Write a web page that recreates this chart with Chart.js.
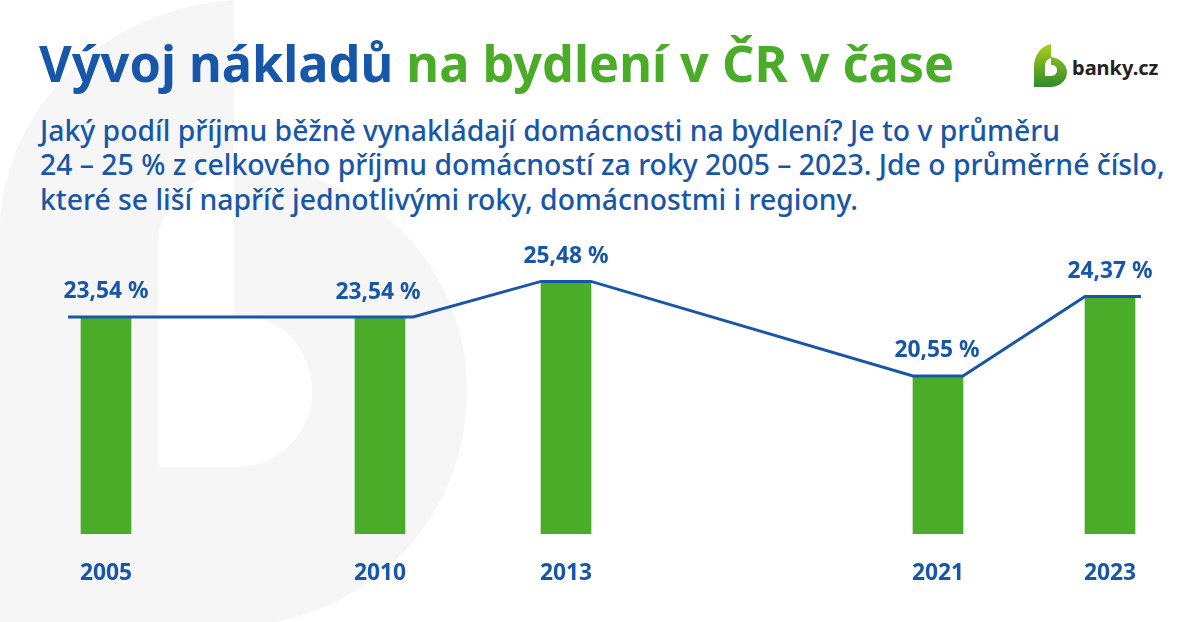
<!DOCTYPE html>
<html lang="cs">
<head>
<meta charset="utf-8">
<title>Vývoj nákladů na bydlení v ČR v čase</title>
<script src="https://cdn.jsdelivr.net/npm/chart.js@4/dist/chart.umd.min.js"></script>
<style>
    html, body { margin: 0; padding: 0; background: #fff; }
    #page { position: relative; width: 1200px; height: 622px; overflow: hidden; font-family: "Noto Sans", sans-serif; color: #1756a9; }
    #page svg, #page canvas { position: absolute; left: 0; top: 0; }
    .title { position: absolute; left: 39px; top: 30px; font-size: 50.45px; line-height: 66px; font-weight: 700; white-space: nowrap; }
    .title span { color: #4aac29; }
    .lead { position: absolute; left: 40px; top: 112.5px; font-size: 28.35px; line-height: 34.5px; font-weight: 500; white-space: nowrap; }
    .brand { position: absolute; left: 1072px; top: 54px; font-size: 20px; line-height: 28px; font-weight: 700; color: #222; white-space: nowrap; }
</style>
</head>
<body>
<div id="page">
    <svg width="1200" height="622" viewBox="0 0 1200 622">
        <defs>
            <linearGradient id="logoGreen" x1="0" y1="0" x2="0" y2="1">
                <stop offset="0" stop-color="#a8cf1c"/>
                <stop offset="1" stop-color="#2f8a2b"/>
            </linearGradient>
        </defs>
        <!-- watermark -->
        <path fill="#f6f6f6" d="M234 0 L234 165 C300 165 360 190 401 230 C445 275 467 330 467 390 C467 470 430 540 367 583 C340 602 310 615 277 622 L0 622 L0 222 C8 100 110 8 234 0 Z"/>
        <path fill="#fff" d="M234 168 C195 172 160 205 158 240 L158 467 L237 467 C280 467 312 432 312 393 C312 352 285 320 253 318 L234 318 Z"/>
        <!-- logo -->
        <path fill="url(#logoGreen)" d="M1051 44 L1051 57 C1060 58 1067 65 1067 72 C1067 81 1059 87 1050 87 L1034 87 L1034 67 C1034 55 1041 46 1051 44 Z"/>
        <path fill="#fff" d="M1051 58 C1047 59 1045 62 1045 66 L1045 76 L1051 76 C1055 76 1057 73 1057 70 C1057 67 1055 65 1051 65 Z"/>
    </svg>
    <div class="title">Vývoj nákladů <span>na bydlení v ČR v čase</span></div>
    <div class="lead">Jaký podíl příjmu běžně vynakládají domácnosti na bydlení? Je to v průměru<br>24 – 25 % z celkového příjmu domácností za roky 2005 – 2023. Jde o průměrné číslo,<br>které se liší napříč jednotlivými roky, domácnostmi i regiony.</div>
    <div class="brand">banky.cz</div>
    <canvas id="chart" width="1200" height="622"></canvas>
</div>

<script>
    const years = ['2005', '2010', '2013', '2021', '2023'];
    const shareLabels = ['23,54 %', '23,54 %', '25,48 %', '20,55 %', '24,37 %'];
    // the picture is not drawn to scale: these are the levels the bars really reach
    const plottedLevels = [23.54, 23.54, 25.34, 20.55, 24.58];
    // spacing of the years is not even in the picture either
    const yearSlots = [106, 380, 566, 938, 1110];

    const barWidth = 50;
    const lineLeft = [38, 25, 25, 25, 25];
    const lineRight = [25, 33, 25, 25, 31];
    const labelShiftX = [0, -2, 0, -1, 0];
    const labelShiftY = [0, 1, 0, 0, 0];

    const blue = '#1756a9';
    const green = '#4aac29';

    const barPoints = yearSlots.map((x, i) => ({ x: x, y: plottedLevels[i] }));
    const linePoints = [];
    yearSlots.forEach((x, i) => {
        linePoints.push({ x: x - lineLeft[i], y: plottedLevels[i] });
        linePoints.push({ x: x + lineRight[i], y: plottedLevels[i] });
    });

    const shareLabelPlugin = {
        id: 'shareLabels',
        afterDatasetsDraw(chart) {
            const ctx = chart.ctx;
            const bars = chart.getDatasetMeta(1).data;
            ctx.save();
            ctx.font = 'bold 22.8px "Noto Sans", sans-serif';
            ctx.fillStyle = blue;
            ctx.textAlign = 'center';
            ctx.textBaseline = 'middle';
            bars.forEach((bar, i) => {
                ctx.fillText(shareLabels[i], bar.x + labelShiftX[i], bar.y - 25 + labelShiftY[i]);
            });
            ctx.restore();
        }
    };

    new Chart(document.getElementById('chart'), {
        data: {
            datasets: [
                {
                    type: 'line',
                    data: linePoints,
                    borderColor: blue,
                    borderWidth: 3,
                    pointRadius: 0,
                    tension: 0,
                    order: 0
                },
                {
                    type: 'bar',
                    data: barPoints,
                    backgroundColor: green,
                    barThickness: barWidth,
                    order: 1
                }
            ]
        },
        options: {
            responsive: false,
            animation: false,
            layout: { padding: 0 },
            plugins: { legend: { display: false }, tooltip: { enabled: false } },
            scales: {
                x: {
                    type: 'linear',
                    offset: false,
                    min: 0,
                    max: 1200,
                    grid: { display: false },
                    border: { display: false },
                    afterBuildTicks: axis => { axis.ticks = yearSlots.map(v => ({ value: v })); },
                    afterFit: axis => { axis.height = 88; },
                    ticks: {
                        autoSkip: false,
                        maxRotation: 0,
                        padding: 18,
                        color: blue,
                        font: { family: '"Noto Sans", sans-serif', size: 22.8, weight: 'bold' },
                        callback: value => years[yearSlots.indexOf(value)]
                    }
                },
                y: {
                    display: false,
                    min: 12.54,
                    max: 39.6
                }
            }
        },
        plugins: [shareLabelPlugin]
    });
</script>
</body>
</html>
